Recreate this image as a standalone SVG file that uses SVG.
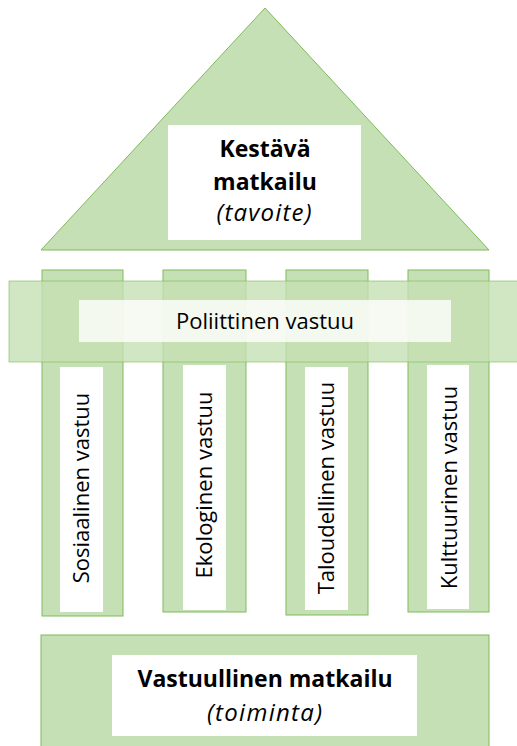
<svg xmlns="http://www.w3.org/2000/svg" width="517" height="746" viewBox="0 0 517 746">
<style>
.g{fill:#c5e0b4;stroke:#7fba5a;stroke-width:1}
.band{fill:#c5e0b4;fill-opacity:0.8;stroke:#7fba5a;stroke-opacity:0.6;stroke-width:1}
.w{fill:#ffffff}
.t{font-family:"Open Sans","Noto Sans",sans-serif;font-size:22px;fill:#000;text-anchor:middle}
.b{font-weight:bold;font-size:23px}
.i{font-style:italic;font-size:24px}
</style>
<rect width="517" height="746" fill="#ffffff"/>
<g id="roof">
<polygon class="g" points="265,8 489,250 41,250"/>
<rect class="w" x="168" y="125" width="193" height="115"/>
<text class="t b" x="265" y="157">Kestävä</text>
<text class="t b" x="265" y="189.5">matkailu</text>
<text class="t i" x="264" y="220.5" textLength="95" lengthAdjust="spacing">(tavoite)</text>
</g>
<g id="pillar-sosiaalinen">
<rect class="g" x="42" y="270" width="81" height="346"/>
<rect class="w" x="60" y="367" width="43" height="245"/>
<text class="t" transform="translate(89,488) rotate(-90)">Sosiaalinen vastuu</text>
</g>
<g id="pillar-ekologinen">
<rect class="g" x="163" y="270" width="83" height="342"/>
<rect class="w" x="183" y="365" width="43" height="245"/>
<text class="t" transform="translate(212,485) rotate(-90)">Ekologinen vastuu</text>
</g>
<g id="pillar-taloudellinen">
<rect class="g" x="286" y="270" width="82" height="345"/>
<rect class="w" x="305" y="367" width="43" height="243"/>
<text class="t" transform="translate(334,488) rotate(-90)">Taloudellinen vastuu</text>
</g>
<g id="pillar-kulttuurinen">
<rect class="g" x="408" y="270" width="81" height="342"/>
<rect class="w" x="427" y="365" width="42" height="244"/>
<text class="t" transform="translate(457,487.5) rotate(-90)">Kulttuurinen vastuu</text>
</g>
<g id="band-poliittinen">
<rect class="band" x="9" y="281" width="520" height="81"/>
<rect x="79" y="300" width="372" height="42" fill="#ffffff" fill-opacity="0.8"/>
<text class="t" x="265" y="329">Poliittinen vastuu</text>
</g>
<g id="base">
<rect class="g" x="41" y="635" width="448" height="120"/>
<rect class="w" x="112" y="655" width="305" height="81"/>
<text class="t b" x="265" y="687">Vastuullinen matkailu</text>
<text class="t i" x="264.5" y="721" textLength="115" lengthAdjust="spacing">(toiminta)</text>
</g>
<g id="connectors"></g>
</svg>
